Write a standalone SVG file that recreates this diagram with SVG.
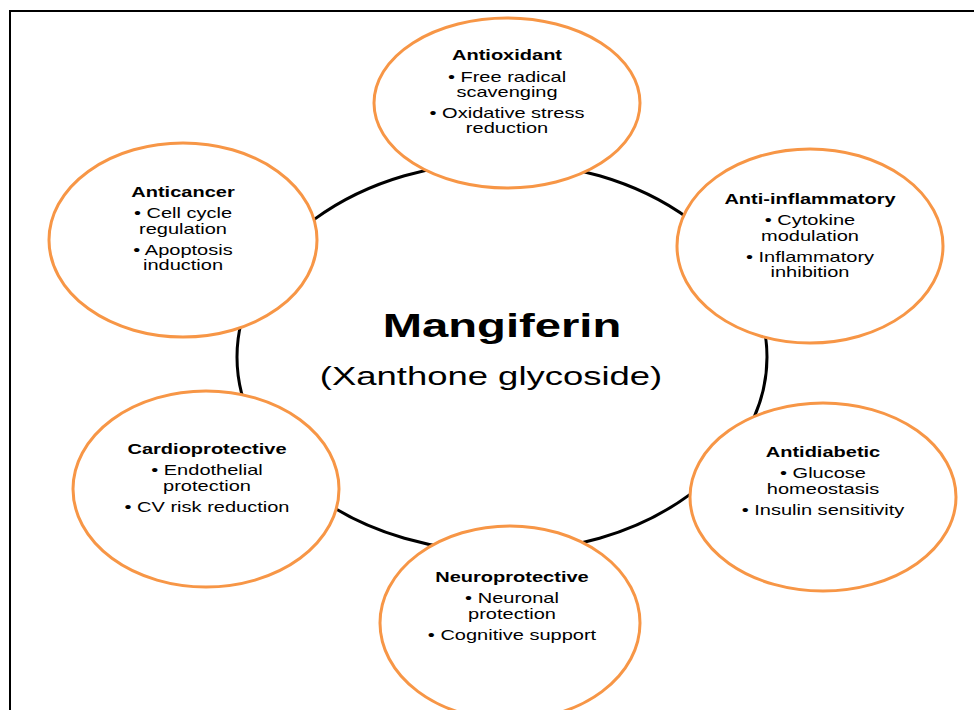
<svg xmlns="http://www.w3.org/2000/svg" width="974" height="710" viewBox="0 0 974 710">
<style>
.ring{fill:none;stroke:#000;stroke-width:3}
.node{fill:#fff;stroke:#F79646;stroke-width:3}
.t{font-family:"Liberation Sans",Arial,sans-serif;font-size:14px;fill:#000;text-anchor:middle}
.b{font-weight:bold}
.main{font-family:"Liberation Sans",Arial,sans-serif;fill:#000;text-anchor:middle}
</style>
<rect x="10" y="11" width="1000" height="720" fill="#fff" stroke="#000" stroke-width="2"/>
<g id="connectors">
<ellipse class="ring" cx="502" cy="357" rx="265" ry="195"/>
</g>
<g id="center">
<g transform="translate(502 0) scale(1.43 1)">
<text class="main" x="0" y="337" font-size="33" font-weight="bold">Mangiferin</text>
</g>
<g transform="translate(491 0) scale(1.43 1)">
<text class="main" x="0" y="385" font-size="25.5">(Xanthone glycoside)</text>
</g>
</g>
<g id="antioxidant">
<ellipse class="node" cx="507" cy="103" rx="133" ry="85"/>
<g transform="translate(507 0) scale(1.43 1)">
<text class="t b" x="0" y="60">Antioxidant</text>
<text class="t" x="0" y="82">• Free radical</text>
<text class="t" x="0" y="97">scavenging</text>
<text class="t" x="0" y="118">• Oxidative stress</text>
<text class="t" x="0" y="133">reduction</text>
</g>
</g>
<g id="anti-inflammatory">
<ellipse class="node" cx="810" cy="246" rx="133" ry="97"/>
<g transform="translate(810 0) scale(1.43 1)">
<text class="t b" x="0" y="204">Anti-inflammatory</text>
<text class="t" x="0" y="225">• Cytokine</text>
<text class="t" x="0" y="241">modulation</text>
<text class="t" x="0" y="262">• Inflammatory</text>
<text class="t" x="0" y="277">inhibition</text>
</g>
</g>
<g id="anticancer">
<ellipse class="node" cx="183" cy="240" rx="134" ry="97"/>
<g transform="translate(183 0) scale(1.43 1)">
<text class="t b" x="0" y="197">Anticancer</text>
<text class="t" x="0" y="218">• Cell cycle</text>
<text class="t" x="0" y="234">regulation</text>
<text class="t" x="0" y="255">• Apoptosis</text>
<text class="t" x="0" y="270">induction</text>
</g>
</g>
<g id="antidiabetic">
<ellipse class="node" cx="823" cy="497" rx="133" ry="94"/>
<g transform="translate(823 0) scale(1.43 1)">
<text class="t b" x="0" y="457">Antidiabetic</text>
<text class="t" x="0" y="478">• Glucose</text>
<text class="t" x="0" y="494">homeostasis</text>
<text class="t" x="0" y="515">• Insulin sensitivity</text>
</g>
</g>
<g id="cardioprotective">
<ellipse class="node" cx="206" cy="489" rx="133" ry="98"/>
<g transform="translate(207 0) scale(1.43 1)">
<text class="t b" x="0" y="454">Cardioprotective</text>
<text class="t" x="0" y="475">• Endothelial</text>
<text class="t" x="0" y="491">protection</text>
<text class="t" x="0" y="512">• CV risk reduction</text>
</g>
</g>
<g id="neuroprotective">
<ellipse class="node" cx="510" cy="623" rx="130" ry="97"/>
<g transform="translate(512 0) scale(1.43 1)">
<text class="t b" x="0" y="582">Neuroprotective</text>
<text class="t" x="0" y="603">• Neuronal</text>
<text class="t" x="0" y="619">protection</text>
<text class="t" x="0" y="640">• Cognitive support</text>
</g>
</g>
</svg>
